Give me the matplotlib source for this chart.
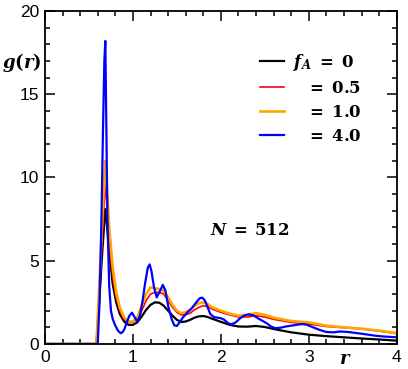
import matplotlib
matplotlib.use("Agg")
import matplotlib.pyplot as plt
from matplotlib.ticker import MultipleLocator

plt.rcParams['mathtext.fontset'] = 'custom'
plt.rcParams['mathtext.rm'] = 'DejaVu Serif:bold'
plt.rcParams['mathtext.it'] = 'DejaVu Serif:italic:bold'
plt.rcParams['mathtext.bf'] = 'DejaVu Serif:bold'

r_black = [0, 0.585, 0.62, 0.65, 0.685, 0.70, 0.73, 0.77, 0.81, 0.85, 0.90, 0.95, 1.00, 1.05, 1.10, 1.15,
           1.20, 1.25, 1.30, 1.35, 1.40, 1.45, 1.50, 1.55, 1.60, 1.65, 1.70, 1.75, 1.80, 1.85, 1.90, 2.0,
           2.1, 2.2, 2.3, 2.4, 2.5, 2.6, 2.8, 3.0, 3.2, 3.4, 3.6, 3.8, 4.0]
g_black = [0, 0, 2.8, 5.4, 8.1, 7.4, 5.6, 3.6, 2.5, 1.8, 1.35, 1.15, 1.15, 1.3, 1.65, 2.05,
           2.35, 2.5, 2.48, 2.3, 2.0, 1.7, 1.45, 1.32, 1.35, 1.45, 1.58, 1.66, 1.68, 1.62, 1.52, 1.33,
           1.15, 1.05, 1.04, 1.08, 1.02, 0.9, 0.7, 0.56, 0.47, 0.4, 0.33, 0.27, 0.2]

r_red = r_black
g_red = [0, 0, 3.3, 6.4, 9.6, 8.6, 6.2, 4.0, 2.8, 2.0, 1.5, 1.3, 1.3, 1.5, 2.0, 2.6,
         3.0, 3.1, 3.1, 3.0, 2.6, 2.2, 1.9, 1.75, 1.75, 1.85, 2.05, 2.2, 2.3, 2.25, 2.1, 1.9,
         1.75, 1.62, 1.62, 1.7, 1.62, 1.48, 1.3, 1.2, 1.05, 0.98, 0.9, 0.78, 0.62]

r_orange = r_black
g_orange = [0, 0, 3.8, 7.4, 11.0, 9.8, 7.0, 4.6, 3.1, 2.2, 1.6, 1.35, 1.35, 1.6, 2.3, 3.0,
            3.4, 3.35, 3.3, 3.2, 2.8, 2.35, 2.0, 1.85, 1.9, 2.05, 2.3, 2.45, 2.5, 2.4, 2.2, 2.0,
            1.82, 1.7, 1.75, 1.85, 1.75, 1.58, 1.38, 1.3, 1.1, 1.0, 0.92, 0.8, 0.65]

r_blue = [0, 0.60, 0.62, 0.64, 0.66, 0.675, 0.686, 0.70, 0.71, 0.73, 0.75, 0.77, 0.80, 0.83, 0.86, 0.88,
          0.90, 0.93, 0.96, 0.99, 1.02, 1.05, 1.08, 1.11, 1.14, 1.17, 1.19, 1.21, 1.24, 1.27, 1.30, 1.34,
          1.37, 1.40, 1.44, 1.47, 1.50, 1.53, 1.57, 1.62, 1.67, 1.72, 1.76, 1.79, 1.82, 1.85, 1.88, 1.92,
          1.96, 2.00, 2.04, 2.08, 2.12, 2.17, 2.22, 2.27, 2.32, 2.37, 2.42, 2.47, 2.52, 2.57, 2.62, 2.68,
          2.74, 2.80, 2.86, 2.92, 2.98, 3.05, 3.12, 3.20, 3.28, 3.36, 3.45, 3.55, 3.65, 3.75, 3.85, 4.0]
g_blue = [0, 0, 2.5, 7, 13, 17, 18.2, 12, 7.5, 3.5, 2.0, 1.5, 1.1, 0.8, 0.65, 0.7,
          0.85, 1.3, 1.7, 1.88, 1.6, 1.35, 1.7, 2.6, 3.7, 4.6, 4.78, 4.4, 3.4, 2.8, 3.1, 3.55,
          3.2, 2.3, 1.5, 1.12, 1.08, 1.3, 1.6, 1.9, 2.15, 2.5, 2.75, 2.78, 2.6, 2.2, 1.8, 1.62,
          1.58, 1.55, 1.45, 1.25, 1.18, 1.3, 1.55, 1.72, 1.78, 1.72, 1.55, 1.4, 1.25, 1.05, 0.95, 0.98,
          1.05, 1.1, 1.15, 1.2, 1.15, 1.0, 0.85, 0.72, 0.7, 0.75, 0.72, 0.65, 0.58, 0.5, 0.45, 0.4]

labels = [r"$f_A\;=\;0$", r"$\;\;\,=\;0.5$", r"$\;\;\,=\;1.0$", r"$\;\;\,=\;4.0$"]
colors = ["black", "#ff0000", "#ffa500", "#0000ff"]
widths = [1.6, 1.2, 1.9, 1.6]

fig = plt.figure(figsize=(4.08, 3.69), dpi=100)
ax = fig.add_axes([0.1103, 0.0678, 0.8620, 0.9024])

series = [(r_black, g_black), (r_red, g_red), (r_orange, g_orange), (r_blue, g_blue)]
handles = []
for (rr, gg), c, lw, lab in zip(series, colors, widths, labels):
    h, = ax.plot(rr, gg, color=c, lw=lw, label=lab, solid_joinstyle='round')
    handles.append(h)

ax.set_xlim(0, 4)
ax.set_ylim(0, 20)
ax.xaxis.set_major_locator(MultipleLocator(1))
ax.xaxis.set_minor_locator(MultipleLocator(0.2))
ax.yaxis.set_major_locator(MultipleLocator(5))
ax.yaxis.set_minor_locator(MultipleLocator(1))
ax.tick_params(which='both', direction='in', top=True, right=True, width=1.1, labelsize=12.5)
ax.tick_params(which='major', length=7)
ax.tick_params(which='minor', length=3.6)
ax.tick_params(axis='x', pad=4)
ax.tick_params(axis='y', pad=4)
for lbl in ax.get_xticklabels() + ax.get_yticklabels():
    lbl.set_family('Liberation Sans')
for s in ax.spines.values():
    s.set_linewidth(1.3)

fig.text(22/408, 1 - 62/369, r"$g(r)$", fontsize=13, ha='center', va='center')
fig.text(345/408, 1 - 359/369, r"$r$", fontsize=13, ha='center', va='center')
fig.text(250/408, 1 - 230/369, r"$N\:=\:512$", fontsize=12, ha='center', va='center')

leg = ax.legend(handles=handles, loc='upper left', bbox_to_anchor=(0.612, 0.878), frameon=False,
                fontsize=12, handlelength=1.45, handletextpad=0.5, labelspacing=0.36, borderpad=0,
                borderaxespad=0)

fig.savefig("out.png", dpi=100)
